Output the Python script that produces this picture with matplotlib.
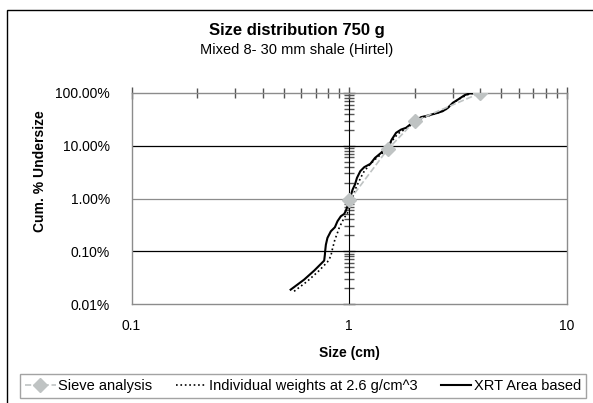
import matplotlib
matplotlib.use("Agg")
import matplotlib.pyplot as plt
from matplotlib.ticker import FuncFormatter, NullFormatter
from matplotlib.patches import Rectangle

plt.rcParams['font.family'] = ['Liberation Sans', 'DejaVu Sans']

# Sieve analysis (size in cm, cumulative % undersize)
sieve_size = [1.0, 1.5, 2.0, 4.0]
sieve_pct = [0.92, 8.5, 29.3, 100.0]

# Individual weights at 2.6 g/cm^3
weights_size = [0.558, 0.642, 0.727, 0.794, 0.823, 0.832, 0.847, 0.859, 0.877,
                0.899, 0.922, 0.948, 0.982, 1.011, 1.025, 1.047, 1.073, 1.100,
                1.132, 1.172, 1.236, 1.327, 1.424, 1.502, 1.567, 1.670, 1.793,
                1.958, 2.065, 2.216, 2.465, 2.741, 2.89, 3.05, 3.27, 3.51, 3.77]
weights_pct = [0.0174, 0.0270, 0.0429, 0.0627, 0.0804, 0.100, 0.133, 0.166, 0.207,
               0.277, 0.344, 0.429, 0.533, 0.714, 0.889, 1.19, 1.59, 1.98,
               2.54, 3.30, 4.29, 5.71, 7.33, 9.40, 12.2, 16.8, 20.3,
               26.1, 30.6, 34.9, 40.3, 46.6, 56.4, 68.1, 81.1, 93.7, 100.0]

# XRT area based
xrt_size = [0.538, 0.620, 0.690, 0.767, 0.773, 0.775, 0.781, 0.794, 0.823,
            0.859, 0.883, 0.915, 0.948, 0.965, 0.982, 1.000, 1.018, 1.036,
            1.062, 1.085, 1.124, 1.172, 1.250, 1.313, 1.400, 1.476, 1.529,
            1.567, 1.641, 1.731, 1.824, 1.924, 2.028, 2.14, 2.30, 2.55, 2.69,
            2.84, 2.99, 3.16, 3.39, 3.57, 3.77]
xrt_pct = [0.0187, 0.0289, 0.0429, 0.0664, 0.0862, 0.100, 0.133, 0.179, 0.239,
           0.285, 0.371, 0.461, 0.510, 0.589, 0.714, 0.889, 1.156, 1.475,
           1.836, 2.46, 3.30, 3.93, 4.54, 5.89, 7.33, 9.12, 10.5,
           13.1, 17.6, 20.3, 21.9, 26.1, 30.6, 34.9, 37.4, 42.1, 45.4,
           52.4, 65.2, 75.3, 91.2, 97.9, 100.0]

W, H = 593, 403
fig = plt.figure(figsize=(W / 100, H / 100), dpi=100)

# outer chart border (cut off at right and bottom)
fig.add_artist(Rectangle((7 / W, -0.1), 1.2, 1.1 - 10 / H, transform=fig.transFigure,
                         fill=False, edgecolor='black', linewidth=1.0))

left, right, top, bottom = 131.5, 567, 93, 304
ax = fig.add_axes([left / W, 1 - bottom / H, (right - left) / W, (bottom - top) / H])
ax.set_xscale('log')
ax.set_yscale('log')
ax.set_xlim(0.1, 10)
ax.set_ylim(0.01, 100)

for s in ax.spines.values():
    s.set_color('#8c8c8c')
    s.set_linewidth(1.0)

# horizontal gridlines at each decade
ax.grid(axis='y', which='major', color='black', linewidth=0.9)
ax.set_axisbelow(True)
for val, gl in zip(ax.get_yticks(), ax.get_ygridlines()):
    if val >= 100 or val <= 0.01:
        gl.set_visible(False)
    elif abs(val - 1) < 1e-9:
        gl.set_color('#8c8c8c')

# x axis crosses at the top, labels stay at the bottom
ax.tick_params(axis='x', which='both', top=True, bottom=False, labelbottom=True,
               direction='inout', colors='#555555', labelcolor='black', labelsize=10, pad=7)
ax.tick_params(axis='x', which='major', length=8, width=1)
ax.tick_params(axis='x', which='minor', length=7, width=1)
ax.xaxis.set_major_formatter(FuncFormatter(lambda v, _: f"{v:g}"))
ax.xaxis.set_minor_formatter(NullFormatter())

ax.tick_params(axis='y', which='both', left=False, right=False, labelleft=True,
               labelsize=10, pad=12)
ax.yaxis.set_major_formatter(FuncFormatter(lambda v, _: f"{v:.2f}%"))
ax.yaxis.set_minor_formatter(NullFormatter())

# vertical axis crosses at size = 1 cm
sec = ax.secondary_yaxis(1, transform=ax.transData)
sec.spines['left'].set_color('#8c8c8c')
sec.tick_params(axis='y', which='both', direction='inout', colors='#555555',
                labelleft=False, labelright=False)
sec.tick_params(axis='y', which='major', length=8, width=1)
sec.tick_params(axis='y', which='minor', length=7, width=1)
sec.yaxis.set_major_formatter(NullFormatter())
sec.yaxis.set_minor_formatter(NullFormatter())

ax.plot(sieve_size, sieve_pct, color='#bfc3c3', linestyle='--', linewidth=1.2,
        marker='D', markersize=7, markeredgecolor='#bfc3c3', label='Sieve analysis', zorder=5)
ax.plot(weights_size, weights_pct, color='black', linestyle=':', linewidth=1.2,
        label='Individual weights at 2.6 g/cm^3', zorder=3)
ax.plot(xrt_size, xrt_pct, color='black', linestyle='-', linewidth=1.5,
        label='XRT Area based', zorder=4)

fig.text(0.5, 1 - 30 / H, 'Size distribution 750 g', ha='center', va='center',
         fontsize=12, fontweight='bold')
fig.text(0.5, 1 - 50 / H, 'Mixed 8- 30 mm shale (Hirtel)', ha='center', va='center',
         fontsize=10.5)
fig.text(40 / W, 1 - 171 / H, 'Cum. % Undersize', ha='center', va='center',
         rotation=90, fontsize=10, fontweight='bold')
fig.text(349 / W, 1 - 353 / H, 'Size (cm)', ha='center', va='center',
         fontsize=10, fontweight='bold')

leg = fig.legend(loc='upper left', bbox_to_anchor=(20 / W, 0, (586 - 20) / W, 1 - 374 / H),
                 mode='expand', ncol=3, fontsize=10.5, frameon=True, fancybox=False,
                 handlelength=2.1, handletextpad=0.15, columnspacing=0.6, borderpad=0.35,
                 borderaxespad=0)
leg.get_frame().set_edgecolor('#8c8c8c')
leg.get_frame().set_linewidth(1.0)

fig.savefig('out.png', dpi=100)
plt.close(fig)
